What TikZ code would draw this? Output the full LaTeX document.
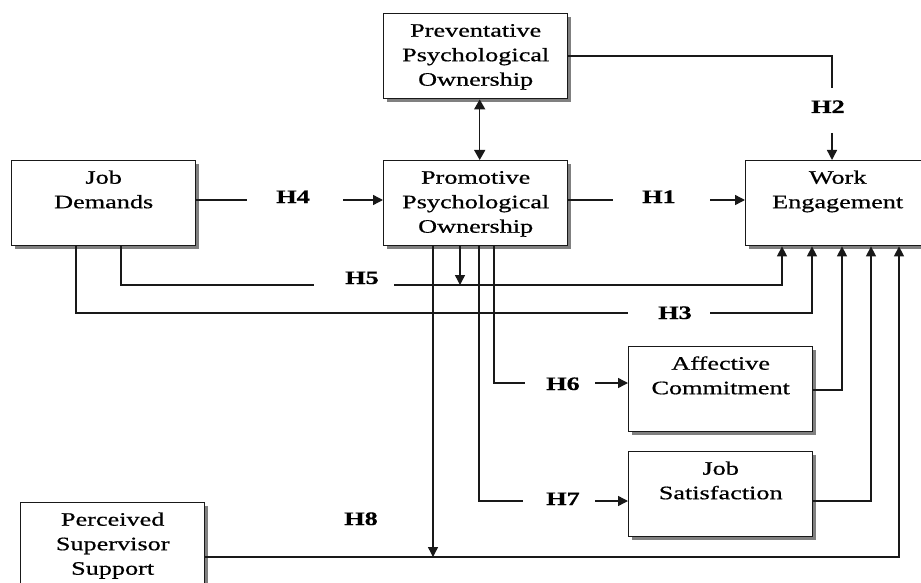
\documentclass[tikz,border=0pt]{standalone}
\usepackage{fontspec}
\setmainfont{Liberation Serif}[FakeStretch=1.38,FakeBold=0.6]
\usetikzlibrary{arrows.meta,shadows}

% top-aligned, centred lines inside a fixed-size variable box
\newcommand\boxlines[1]{\parbox[t][85pt][t]{184pt}{\centering\rule{0pt}{23pt}#1}}

\begin{document}
\begin{tikzpicture}[x=1pt,y=-1pt,
  conn/.style={line width=1.4pt, draw=black!90},
  arr/.style={conn, -{Triangle[length=10pt,width=10pt]}},
  dblarr/.style={conn, {Triangle[length=10pt,width=11pt]}-{Triangle[length=10pt,width=11pt]}},
  varbox/.style={draw=black!90, line width=1.4pt, fill=white, inner sep=0pt,
    anchor=north west, font=\fontsize{19}{24.5}\selectfont,
    drop shadow={shadow xshift=3.5pt, shadow yshift=-3.5pt, fill=black!50, opacity=1}},
  hyp/.style={inner sep=0pt, anchor=base, font=\fontsize{19}{24}\selectfont\bfseries}]

\useasboundingbox (0,0) rectangle (921,583);
\clip (0,0) rectangle (921,583);

% variables
\node[varbox] (prev) at (383,13)  {\boxlines{Preventative\\Psychological\\Ownership}};
\node[varbox] (prom) at (383,160) {\boxlines{Promotive\\Psychological\\Ownership}};
\node[varbox] (jd)   at (11,160)  {\boxlines{Job\\Demands}};
\node[varbox] (we)   at (745,160) {\boxlines{Work\\Engagement}};
\node[varbox] (ac)   at (628,346) {\boxlines{Affective\\Commitment}};
\node[varbox] (js)   at (628,451) {\boxlines{Job\\Satisfaction}};
\node[varbox] (pss)  at (20,502)  {\boxlines{Perceived\\Supervisor\\Support}};

% hypothesis labels
\node[hyp] (h1) at (659,203) {H1};
\node[hyp] (h2) at (828,113) {H2};
\node[hyp] (h3) at (675,319) {H3};
\node[hyp] (h4) at (293,203) {H4};
\node[hyp] (h5) at (362,284) {H5};
\node[hyp] (h6) at (563,390) {H6};
\node[hyp] (h7) at (563,505) {H7};
\node[hyp] (h8) at (361,525) {H8};

% break points and routing columns
\coordinate (h1a) at (613,200); \coordinate (h1b) at (710,200);
\coordinate (h2a) at (832,88);  \coordinate (h2b) at (832,133);
\coordinate (h3s) at (76,313);  \coordinate (h3a) at (628,313);
\coordinate (h3b) at (710,313); \coordinate (c3)  at (812,313);
\coordinate (h4a) at (247,200); \coordinate (h4b) at (343,200);
\coordinate (h5s) at (121,285); \coordinate (h5a) at (314,285);
\coordinate (h5b) at (394,285); \coordinate (c5)  at (782,285);
\coordinate (m5)  at (460,285);
\coordinate (m6)  at (494,383); \coordinate (h6a) at (525,383); \coordinate (h6b) at (595,383);
\coordinate (m7)  at (479,501); \coordinate (h7a) at (523,501); \coordinate (h7b) at (595,501);
\coordinate (m8)  at (433,557); \coordinate (c8)  at (899,557);
\coordinate (ac1) at (842,390);
\coordinate (js1) at (871,501);

% preventative <-> promotive
\draw[dblarr] ([xshift=4pt]prev.south) -- ([xshift=4pt]prom.north);

% H2
\draw[conn] (prev.east) -| (h2a);
\draw[arr] (h2b) -- (we.north -| h2b);

% H4
\draw[conn] (jd.east |- h4a) -- (h4a);
\draw[arr] (h4b) -- (prom.west |- h4b);

% H1
\draw[conn] (prom.east |- h1a) -- (h1a);
\draw[arr] (h1b) -- (we.west |- h1b);

% H5 (moderated by promotive ownership)
\draw[conn] (jd.south -| h5s) |- (h5a);
\draw[arr] (h5b) -| (we.south -| c5);
\draw[arr] (prom.south -| m5) -- (m5);

% H3
\draw[conn] (jd.south -| h3s) |- (h3a);
\draw[arr] (h3b) -| (we.south -| c3);

% H6
\draw[conn] (prom.south -| m6) |- (h6a);
\draw[arr] (h6b) -- (ac.west |- h6b);
\draw[arr] (ac.east |- ac1) -| (we.south -| ac1);

% H7
\draw[conn] (prom.south -| m7) |- (h7a);
\draw[arr] (h7b) -- (js.west |- h7b);
\draw[arr] (js.east |- js1) -| (we.south -| js1);

% H8 (moderated by promotive ownership)
\draw[arr] (prom.south -| m8) -- (m8);
\draw[arr] (pss.east |- m8) -| (we.south -| c8);

\end{tikzpicture}
\end{document}
